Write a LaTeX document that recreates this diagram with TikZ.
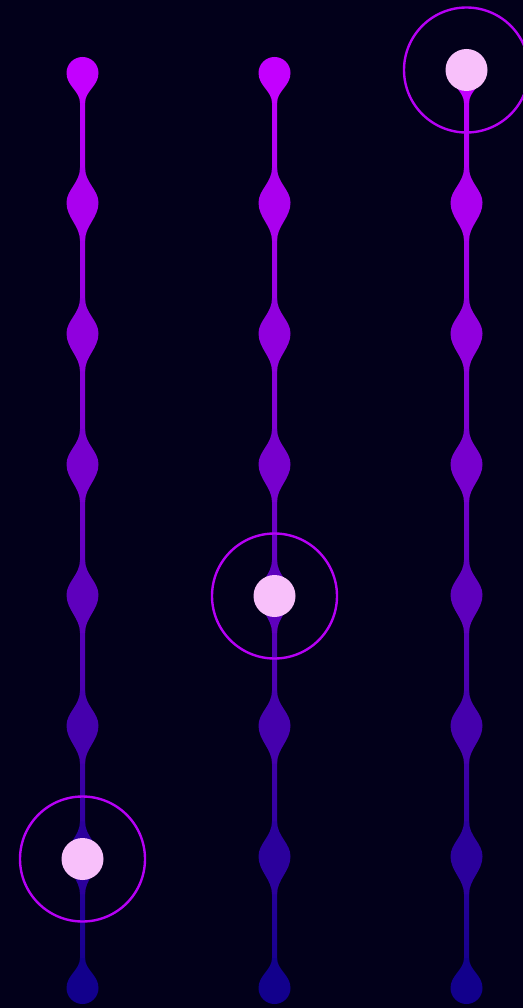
\documentclass[tikz,border=0pt]{standalone}
\usetikzlibrary{positioning}

\definecolor{bg}{RGB}{2,0,26}
\definecolor{beadtop}{RGB}{195,0,255}
\definecolor{beadbot}{RGB}{18,0,140}
\definecolor{dotpink}{RGB}{248,192,250}
\definecolor{ringpurple}{RGB}{182,0,245}

\begin{document}
\begin{tikzpicture}[x=1pt,y=-1pt,
  hldot/.style={circle,fill=dotpink,minimum size=42pt,inner sep=0pt},
  hlring/.style={circle,draw=ringpurple,line width=2.4pt,minimum size=125pt,inner sep=0pt}]
\clip (0,0) rectangle (523,1008);
\fill[bg] (0,0) rectangle (523,1008);
% stems and beads, one column at a time
\foreach \x in {82.5,274.5,466.5}{
  \foreach \i in {0,...,6}{
    \pgfmathsetmacro{\ya}{73+\i*130.714}
    \pgfmathsetmacro{\yb}{73+(\i+1)*130.714}
    \pgfmathsetmacro{\pa}{100-\i*100/7}
    \pgfmathsetmacro{\pb}{100-(\i+1)*100/7}
    \shade[top color=beadtop!\pa!beadbot,bottom color=beadtop!\pb!beadbot]
      (\x-2.5,\ya) rectangle (\x+2.5,\yb);
  }
  \foreach \i in {1,...,6}{
    \pgfmathsetmacro{\y}{72+\i*130.714}
    \pgfmathsetmacro{\p}{100-\i*100/7}
    \fill[beadtop!\p!beadbot] (\x-2.5,\y-35)
      .. controls (\x-2.5,\y-20) and (\x-16,\y-13) .. (\x-16,\y)
      .. controls (\x-16,\y+15) and (\x-2.5,\y+23) .. (\x-2.5,\y+38)
      -- (\x+2.5,\y+38)
      .. controls (\x+2.5,\y+23) and (\x+16,\y+15) .. (\x+16,\y)
      .. controls (\x+16,\y-13) and (\x+2.5,\y-20) .. (\x+2.5,\y-35) -- cycle;
  }
  % top drop
  \fill[beadtop] (\x-2.5,103)
    .. controls (\x-2.5,91) and (\x-16,86) .. (\x-16,73)
    arc[start angle=180,end angle=360,radius=16]
    .. controls (\x+16,86) and (\x+2.5,91) .. (\x+2.5,103) -- cycle;
  % bottom drop
  \fill[beadbot] (\x-2.5,958)
    .. controls (\x-2.5,970) and (\x-16,975) .. (\x-16,988)
    arc[start angle=180,end angle=0,radius=16]
    .. controls (\x+16,975) and (\x+2.5,970) .. (\x+2.5,958) -- cycle;
}
% highlighted positions
\node[hldot] (dotA) at (82.5,859) {};
\node[hlring] (ringA) at (dotA) {};
\node[hldot] (dotB) at (274.5,596) {};
\node[hlring] (ringB) at (dotB) {};
\node[hldot] (dotC) at (466.5,70) {};
\node[hlring] (ringC) at (dotC) {};
\end{tikzpicture}
\end{document}
